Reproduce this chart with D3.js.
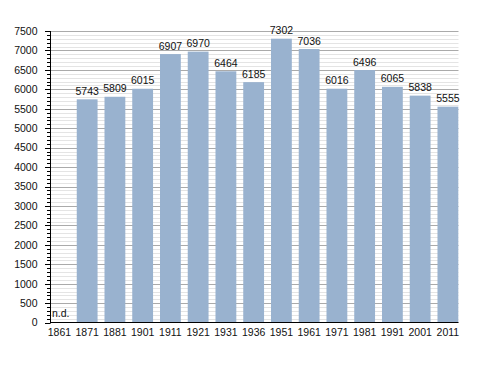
<!DOCTYPE html>
<html><head><meta charset="utf-8">
<script src="https://cdn.jsdelivr.net/npm/d3@7"></script>
<style>body{margin:0;background:#fff}svg{display:block}text{font-family:"Liberation Sans",Arial,sans-serif;fill:#111}</style>
</head><body>
<script>
const categories = ["1861","1871","1881","1901","1911","1921","1931","1936","1951","1961","1971","1981","1991","2001","2011"];
const values = [null,5743,5809,6015,6907,6970,6464,6185,7302,7036,6016,6496,6065,5838,5555];
const yMajorTicks = [0,500,1000,1500,2000,2500,3000,3500,4000,4500,5000,5500,6000,6500,7000,7500];

const W = 488, H = 373;
const svg = d3.select("body").append("svg").attr("width", W).attr("height", H);
const axisX0 = 50.5, axisX1 = 458.5;
const x = d3.scaleBand().domain(categories).range([49, 458.3]).paddingInner(0.25).paddingOuter(0).align(0);
const y = d3.scaleLinear().domain([0, 7500]).range([322.7, 31]);

// minor gridlines
const minor = d3.range(100, 7501, 100).filter(v => v % 500 !== 0);
svg.append("g").selectAll("line").data(minor).join("line")
  .attr("x1", axisX0).attr("x2", axisX1)
  .attr("y1", d => Math.round(y(d)) + 0.5).attr("y2", d => Math.round(y(d)) + 0.5)
  .attr("stroke", "#e4e4e4").attr("stroke-width", 1);
svg.append("g").selectAll("line").data(yMajorTicks.filter(d => d > 0)).join("line")
  .attr("x1", axisX0).attr("x2", axisX1)
  .attr("y1", d => Math.round(y(d)) + 0.5).attr("y2", d => Math.round(y(d)) + 0.5)
  .attr("stroke", "#aaaaaa").attr("stroke-width", 1);

// bars
const data = categories.map((c, i) => ({c, v: values[i]}));
svg.append("g").selectAll("rect").data(data.filter(d => d.v != null)).join("rect")
  .attr("x", d => x(d.c)).attr("width", x.bandwidth())
  .attr("y", d => y(d.v)).attr("height", d => y(0) - y(d.v))
  .attr("fill", "#99b2cf");

// value labels
svg.append("g").selectAll("text").data(data.filter(d => d.v != null)).join("text")
  .attr("x", d => x(d.c) + x.bandwidth() / 2).attr("y", d => y(d.v) - 4.5)
  .attr("text-anchor", "middle").attr("font-size", "10.5px").text(d => d.v);

// n.d.
svg.append("text").attr("x", x("1861") + 3).attr("y", 317).attr("font-size", "10.5px").text("n.d.");

// y axis
const yAxis = svg.append("g");
yAxis.append("line").attr("x1", axisX0).attr("x2", axisX0).attr("y1", y(7500)).attr("y2", y(0) + 0.5).attr("stroke", "#000");
yAxis.selectAll("line.mn").data(d3.range(0, 7501, 100)).join("line").attr("class", "mn")
  .attr("x1", d => d % 500 === 0 ? 45 : 47).attr("x2", axisX0)
  .attr("y1", d => Math.round(y(d)) + 0.5).attr("y2", d => Math.round(y(d)) + 0.5)
  .attr("stroke", "#000");
yAxis.selectAll("text").data(yMajorTicks).join("text")
  .attr("x", 37.5).attr("y", d => y(d)).attr("dy", "0.36em")
  .attr("text-anchor", "end").attr("font-size", "10.5px").text(d => d);

// x axis
svg.append("line").attr("x1", axisX0).attr("x2", axisX1).attr("y1", 322.5).attr("y2", 322.5).attr("stroke", "#000");
svg.append("g").selectAll("text").data(categories).join("text")
  .attr("x", d => x(d) + x.bandwidth() / 2).attr("y", 335.5)
  .attr("text-anchor", "middle").attr("font-size", "10.5px").text(d => d);
</script>
</body></html>
